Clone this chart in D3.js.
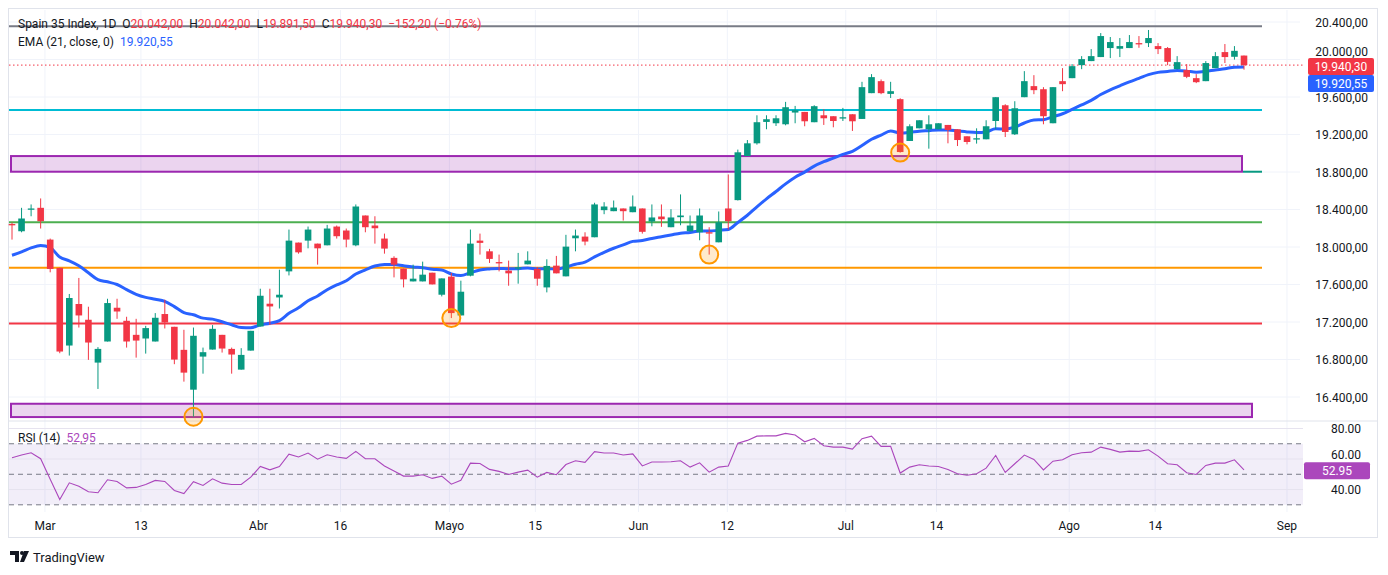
<!DOCTYPE html>
<html><head><meta charset="utf-8">
<script src="https://cdn.jsdelivr.net/npm/d3@7/dist/d3.min.js"></script>
<style>body{margin:0;background:#fff}svg{display:block;font-family:Roboto,"Liberation Sans",sans-serif}</style>
</head><body><svg id="c" width="1388" height="575"></svg>
<script>
const opens=[18245,18168,18408,18418,18079,17777,16949,17392,17224,16767,16992,17352,17213,17063,17024,16992,17285,17149,16903,16478,16831,16906,17063,16913,16692,16895,17152,17395,17462,17740,18047,18068,18036,18018,18218,18176,18018,18336,18229,18090,17884,17769,17633,17633,17726,17491,17684,17270,17694,18068,17954,17839,17748,17769,17815,17766,17569,17801,17687,18093,18111,18104,18393,18382,18411,18371,18411,18272,18325,18211,18318,18168,18157,18157,18050,18411,18500,18970,19106,19334,19320,19309,19434,19441,19331,19405,19395,19381,19416,19366,19641,19769,19633,19577,19131,19266,19256,19256,19302,19256,19181,19156,19149,19344,19512,19202,19598,19716,19683,19320,19769,19801,19940,19983,20026,20122,20115,20122,20175,20175,20143,20122,19897,19887,19801,19769,19908,20079,20029,20042];
const highs=[18261,18418,18454,18518,18090,17780,17499,17670,17363,16932,17448,17448,17256,17234,17159,17295,17438,17149,17117,17141,16927,17167,17063,16927,16921,17106,17555,17555,17758,18186,18047,18218,18036,18236,18229,18197,18454,18336,18328,18143,17901,17769,17812,17844,17726,17665,17723,17641,18186,18143,17980,17919,17855,17937,17954,17787,17869,17905,18130,18186,18157,18472,18478,18496,18411,18550,18411,18454,18454,18403,18561,18336,18411,18211,18379,18774,19039,19141,19405,19405,19405,19548,19505,19441,19512,19470,19395,19484,19416,19762,19844,19787,19762,19587,19309,19352,19405,19320,19302,19256,19181,19266,19352,19598,19523,19555,19876,19833,19705,19705,19908,19951,20036,20111,20282,20240,20229,20261,20250,20315,20175,20133,20036,19951,19844,19983,20079,20165,20143,20042];
const lows=[18079,18157,18328,18197,17730,16867,16842,17141,16796,16486,16992,17234,16927,16820,16863,16992,17131,16750,16564,16189,16649,16906,16874,16649,16692,16895,17152,17167,17344,17697,17929,17986,17812,18018,18090,17997,18008,18157,18036,17929,17676,17569,17633,17633,17601,17473,17242,17270,17687,17919,17830,17740,17587,17609,17815,17587,17516,17719,17687,17954,18018,18104,18350,18382,18282,18371,18143,18221,18215,18211,18232,18168,18072,17919,18050,18186,18496,18970,19092,19256,19291,19298,19320,19288,19331,19302,19277,19344,19238,19366,19641,19630,19590,19007,19131,19266,19049,19256,19106,19077,19095,19103,19149,19256,19173,19195,19598,19630,19309,19320,19662,19801,19897,19983,20026,20015,20026,20122,20125,20133,20058,19940,19897,19801,19748,19769,19908,19962,19999,19891.5];
const closes=[18234,18304,18411,18275,17766,16885,17456,17270,16981,16913,17402,17312,16992,17002,17135,17245,17195,16799,16660,17053,16878,17127,16917,16853,16849,17106,17480,17366,17491,18068,17943,18186,17986,18197,18115,18079,18432,18211,18200,17983,17812,17655,17662,17705,17601,17665,17295,17523,18036,18044,17873,17833,17719,17783,17855,17662,17798,17719,18004,18122,18058,18454,18432,18421,18382,18432,18162,18315,18296,18315,18336,18229,18336,18151,18264,18275,19010,19106,19331,19363,19373,19491,19459,19341,19502,19373,19344,19384,19341,19705,19812,19641,19662,19013,19288,19352,19309,19320,19248,19141,19120,19160,19288,19598,19227,19480,19769,19673,19395,19705,19737,19929,20004,20036,20250,20186,20143,20186,20170,20229,20111,19975,19972,19815,19758,19962,20036,20026,20092.5,19940.3];
const rsi=[60.8,62.6,64.1,60.2,46.8,33.5,44.4,42.2,38.5,37.9,46.4,45.3,41.1,41.4,43.3,46,45.3,39.4,37.4,45.1,42.7,47,44.2,43.3,43.3,48.1,55.1,52.9,55.1,63.2,61.3,63.9,59.9,62.8,61.3,60.4,65,60.2,60.2,55.4,52.1,48.8,48.8,49.7,47.3,48.8,43.5,46,57.3,57.1,53.2,51.9,49.9,51.4,52.7,48.1,51.2,49.7,56.4,58.9,57.8,64.8,63.9,63.9,62.6,63.4,55.5,58,58,58.2,58.9,54.7,57.5,51.4,54.7,55.4,70.4,72.2,75,75.2,75.2,76.8,75.7,71.3,73.5,68.7,67.8,67.8,66.5,73.3,75,68.3,68.3,50.8,54.7,56.2,55.4,55.1,53.2,50.3,49.4,50.3,54,62.3,51.2,56.9,62.6,59.7,52.9,58.6,59.5,62.8,64.1,64.5,67.8,66.3,64.5,65.2,65,66.1,61.9,56.9,56.2,51,49.9,55.8,57.3,57.3,59.5,52.95];
const timeLabels=["Mar","13","Abr","16","Mayo","15","Jun","12","Jul","14","Ago","14","Sep"];
const timeLabelPos=[3.45,13.5,25.8,34.4,45.8,54.8,65.6,74.9,87.3,96.8,110.7,119.7,133.5];
const priceTicks=[16400,16800,17200,17600,18000,18400,18800,19200,19600,20000,20400];
const rsiTicks=[40,60,80];
const hLines=[{p:20354,c:"#787b86"},{p:19462,c:"#00bcd4"},{p:18264,c:"#4caf50"},{p:17780,c:"#ff9800"},{p:17185,c:"#f23645"}];
const zones=[[18803,18970],[16186,16328]];
const circled=[19,46,73,93];
const emaSeed=17880;

const fmt=v=>d3.format(",.2f")(v).replace(/,/g,"#").replace(".",",").replace(/#/g,".");
const svg=d3.select("#c");
const x=d3.scaleLinear().domain([0,129]).range([12,1244]);
const y=d3.scaleLinear().domain([16400,20400]).range([397,22]);
const yr=d3.scaleLinear().domain([30,80]).range([504.8,428.5]);
const L=9,R=1262,T=10,PB=421,RB=512;
const up="#089981",dn="#f23645";
const FS=12;

svg.append("rect").attr("x",8.5).attr("y",8.5).attr("width",1369).attr("height",529).attr("fill","none").attr("stroke","#e0e3eb");
svg.selectAll(".vg").data(timeLabelPos).join("line").attr("x1",d=>x(d)).attr("x2",d=>x(d)).attr("y1",T).attr("y2",RB).attr("stroke","#f0f3fa");
svg.selectAll(".hg").data(priceTicks).join("line").attr("x1",L).attr("x2",1300).attr("y1",d=>y(d)).attr("y2",d=>y(d)).attr("stroke","#f0f3fa");
svg.append("line").attr("x1",L).attr("x2",1377).attr("y1",PB).attr("y2",PB).attr("stroke","#e0e3eb");
// RSI
svg.append("rect").attr("x",L).attr("y",yr(70)).attr("width",1303-L).attr("height",yr(30)-yr(70)).attr("fill","rgba(126,87,194,0.1)");
svg.selectAll(".rg").data(rsiTicks).join("line").attr("x1",L).attr("x2",1303).attr("y1",d=>yr(d)).attr("y2",d=>yr(d)).attr("stroke","#e6e3ef");
svg.selectAll(".rd").data([70,50,30]).join("line").attr("x1",L).attr("x2",1303).attr("y1",d=>yr(d)).attr("y2",d=>yr(d)).attr("stroke","#787b86").attr("stroke-dasharray","5,4");
svg.append("path").attr("d",d3.line().x((d,i)=>x(i)).y(d=>yr(d))(rsi)).attr("fill","none").attr("stroke","#ab47bc").attr("stroke-width",1.1);
const rl=rsi[rsi.length-1];
svg.selectAll(".rt").data(rsiTicks).join("text").attr("x",1346).attr("y",d=>d===60?yr(d)-0.5:yr(d)+4.5).attr("text-anchor","middle").attr("font-size",FS).attr("fill","#131722").text(d=>d.toFixed(2));
svg.append("rect").attr("x",1304).attr("y",yr(rl)-7.5).attr("width",66).attr("height",17).attr("fill","#ab47bc").attr("rx",2);
svg.append("text").attr("x",1337).attr("y",yr(rl)+5.5).attr("text-anchor","middle").attr("font-size",FS).attr("fill","#fff").text(rl.toFixed(2));
const rt=svg.append("text").attr("x",18).attr("y",442).attr("font-size",FS).attr("xml:space","preserve");
rt.append("tspan").attr("fill","#131722").text("RSI (14)  ");
rt.append("tspan").attr("fill","#ab47bc").text(String(rl).replace(".",","));

svg.selectAll(".z").data(zones).join("rect").attr("x",11).attr("y",d=>y(d[1])).attr("width",(d,i)=>i?1241:1231).attr("height",d=>y(d[0])-y(d[1])).attr("fill","rgba(156,39,176,0.2)").attr("stroke","#9c27b0").attr("stroke-width",2);
svg.append("line").attr("x1",1243).attr("x2",R).attr("y1",y(18803)).attr("y2",y(18803)).attr("stroke",up).attr("stroke-width",2);
svg.selectAll(".hl").data(hLines).join("line").attr("x1",L).attr("x2",R).attr("y1",d=>y(d.p)).attr("y2",d=>y(d.p)).attr("stroke",d=>d.c).attr("stroke-width",2);
svg.append("line").attr("x1",L).attr("x2",1303).attr("y1",y(closes[129])).attr("y2",y(closes[129])).attr("stroke",dn).attr("stroke-dasharray","1.5,2.5");

const a=2/22;let e=emaSeed;const ema=closes.map(c=>(e=a*c+(1-a)*e));
svg.append("path").attr("d",d3.line().curve(d3.curveMonotoneX).x((d,i)=>x(i)).y(d=>y(d))(ema)).attr("fill","none").attr("stroke","#2962ff").attr("stroke-width",3);

const idx=d3.range(closes.length);
const g=svg.append("g");
g.selectAll(".w").data(idx).join("line").attr("x1",i=>x(i)).attr("x2",i=>x(i)).attr("y1",i=>y(highs[i])).attr("y2",i=>y(lows[i])).attr("stroke",i=>closes[i]>=opens[i]?up:dn).attr("stroke-width",1);
g.selectAll(".b").data(idx).join("rect").attr("x",i=>x(i)-3.3).attr("width",6.6).attr("y",i=>y(Math.max(opens[i],closes[i]))).attr("height",i=>Math.max(1.3,Math.abs(y(opens[i])-y(closes[i])))).attr("fill",i=>closes[i]>=opens[i]?up:dn);

svg.selectAll(".ci").data(circled).join("circle").attr("cx",i=>x(i)).attr("cy",i=>y(lows[i])).attr("r",9).attr("fill","rgba(255,152,0,0.2)").attr("stroke","#ff9800").attr("stroke-width",2);

const last=closes[129], lastE=ema[ema.length-1];
svg.selectAll(".pt").data(priceTicks).join("text").attr("x",1368).attr("y",d=>d===20000?y(last)-9:y(d)+4.5).attr("text-anchor","end").attr("font-size",FS).attr("fill","#131722").text(d=>fmt(d));
svg.append("rect").attr("x",1308).attr("y",y(last)-7).attr("width",66).attr("height",17).attr("fill",dn).attr("rx",2);
svg.append("text").attr("x",1341).attr("y",y(last)+6).attr("text-anchor","middle").attr("font-size",FS).attr("fill","#fff").text(fmt(last));
svg.append("rect").attr("x",1308).attr("y",y(last)+10).attr("width",66).attr("height",17).attr("fill","#2962ff").attr("rx",2);
svg.append("text").attr("x",1341).attr("y",y(last)+23).attr("text-anchor","middle").attr("font-size",FS).attr("fill","#fff").text(fmt(lastE));

svg.selectAll(".tl").data(timeLabels).join("text").attr("x",(d,i)=>x(timeLabelPos[i])).attr("y",530).attr("text-anchor","middle").attr("font-size",FS).attr("fill","#131722").text(d=>d);

const o=opens[129],h=highs[129],l=lows[129],c=closes[129],prev=closes[128];
const lg=svg.append("text").attr("x",18).attr("y",28).attr("font-size",FS).attr("xml:space","preserve");
lg.append("tspan").attr("fill","#131722").text("Spain 35 Index, 1D  O");
lg.append("tspan").attr("fill",dn).text(fmt(o));
lg.append("tspan").attr("fill","#131722").text("  H");
lg.append("tspan").attr("fill",dn).text(fmt(h));
lg.append("tspan").attr("fill","#131722").text("  L");
lg.append("tspan").attr("fill",dn).text(fmt(l));
lg.append("tspan").attr("fill","#131722").text("  C");
lg.append("tspan").attr("fill",dn).text(fmt(c)+"  "+fmt(c-prev)+" (−"+Math.abs((c-prev)/prev*100).toFixed(2)+"%)");
const le=svg.append("text").attr("x",18).attr("y",46).attr("font-size",FS).attr("xml:space","preserve");
le.append("tspan").attr("fill","#131722").text("EMA (21, close, 0)  ");
le.append("tspan").attr("fill","#2962ff").text(fmt(lastE));
const tv=svg.append("g").attr("fill","#131722");
tv.append("path").attr("d","M10 551h9v11h-4v-7h-5z");
tv.append("circle").attr("cx",22).attr("cy",553).attr("r",2);
tv.append("path").attr("d","M24 551h5l-5 11h-4z");
tv.append("text").attr("x",33).attr("y",562).attr("font-size",13).text("TradingView");
</script></body></html>
